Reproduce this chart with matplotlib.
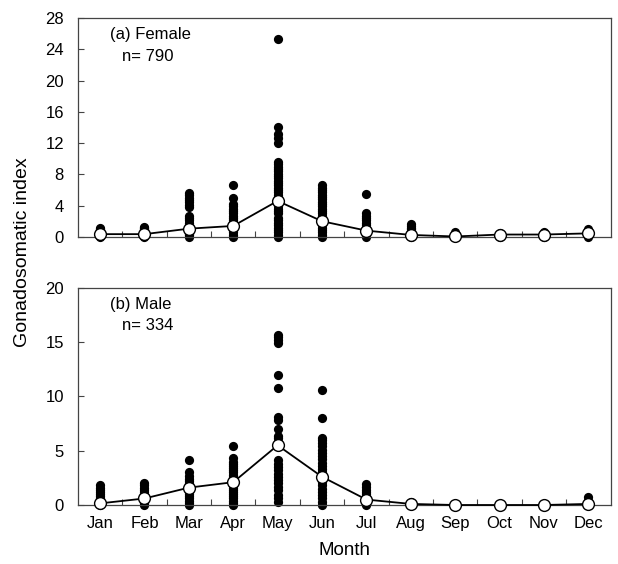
import matplotlib
matplotlib.use("Agg")
import matplotlib.pyplot as plt
import numpy as np

plt.rcParams['font.family'] = ['Liberation Sans', 'DejaVu Sans']

months = ["Jan", "Feb", "Mar", "Apr", "May", "Jun",
          "Jul", "Aug", "Sep", "Oct", "Nov", "Dec"]

# individual GSI values (female)
female_pts = [
    [0, 0.1, 0.2, 0.3, 0.4, 0.5, 0.6, 0.8, 1.0, 1.1],
    [0, 0.1, 0.2, 0.3, 0.4, 0.6, 0.8, 1.0, 1.2, 1.3],
    [0, 0.2, 0.4, 0.6, 0.8, 1.0, 1.2, 1.5, 1.8, 2.1, 2.4, 2.7,
     3.8, 4.1, 4.4, 4.7, 5.0, 5.3, 5.6],
    [0, 0.3, 0.6, 0.9, 1.2, 1.5, 1.8, 2.1, 2.4, 2.7, 3.0, 3.3,
     3.6, 3.9, 4.2, 5.0, 6.6],
    [0, 0.3, 0.6, 0.9, 1.2, 1.5, 1.8, 2.1, 2.4, 3.0, 3.3, 3.6,
     3.9, 4.2, 4.5, 4.8, 5.1, 5.4, 5.7, 6.0, 6.3, 6.6, 6.9, 7.2,
     7.5, 7.8, 8.1, 8.4, 8.7, 9.0, 9.3, 9.6, 12.0, 12.7, 13.2,
     14.0, 25.3],
    [0, 0.3, 0.6, 0.9, 1.2, 1.5, 1.8, 2.1, 2.4, 2.7, 3.0, 3.3,
     3.6, 3.9, 4.2, 4.5, 4.8, 5.1, 5.4, 5.7, 6.0, 6.3, 6.7],
    [0, 0.2, 0.4, 0.6, 0.8, 1.0, 1.2, 1.5, 1.8, 2.1, 2.4, 2.7,
     3.0, 5.5],
    [0, 0.2, 0.4, 0.6, 0.8, 1.0, 1.2, 1.4, 1.7],
    [0, 0.2, 0.4, 0.6],
    [0, 0.2, 0.4, 0.5],
    [0, 0.2, 0.4, 0.6],
    [0, 0.2, 0.4, 0.6, 0.8, 1.0],
]
female_mean = [0.35, 0.35, 1.05, 1.4, 4.6, 2.0, 0.8, 0.25, 0.05, 0.3, 0.3, 0.45]

# male
male_pts = [
    [0, 0.2, 0.4, 0.6, 0.8, 1.0, 1.2, 1.4, 1.6, 1.8],
    [0, 0.2, 0.4, 0.6, 0.8, 1.0, 1.2, 1.4, 1.6, 1.8, 2.0],
    [0, 0.2, 0.4, 0.6, 0.8, 1.0, 1.2, 1.4, 1.6, 1.8, 2.0, 2.2,
     2.4, 2.7, 3.0, 4.1],
    [0, 0.2, 0.4, 0.6, 0.8, 1.0, 1.2, 1.4, 1.6, 1.8, 2.0, 2.2,
     2.4, 2.6, 2.8, 3.0, 3.2, 3.4, 3.6, 3.8, 4.0, 4.3, 5.4],
    [0.3, 0.6, 0.9, 1.4, 1.7, 2.0, 2.3, 2.6, 2.9, 3.2, 3.5, 3.8,
     4.1, 5.4, 5.8, 6.2, 6.4, 7.0, 7.8, 8.1, 10.8, 12.0, 14.9,
     15.2, 15.5, 15.7],
    [0, 0.3, 0.6, 0.9, 1.2, 1.5, 1.8, 2.1, 2.4, 2.7, 3.0, 3.3,
     3.6, 3.9, 4.2, 4.5, 4.8, 5.1, 5.4, 5.7, 6.0, 6.2, 8.0, 10.6],
    [0, 0.2, 0.4, 0.6, 0.8, 1.0, 1.2, 1.4, 1.7, 1.9],
    [0, 0.1, 0.2, 0.3],
    [0],
    [0],
    [0],
    [0, 0.2, 0.4, 0.7],
]
male_mean = [0.15, 0.6, 1.6, 2.1, 5.5, 2.6, 0.5, 0.1, 0.0, 0.0, 0.0, 0.1]

x = np.arange(1, 13)

fig = plt.figure(figsize=(6.18, 5.64), dpi=100)
ax1 = fig.add_axes([0.126, 0.580, 0.862, 0.388])
ax2 = fig.add_axes([0.126, 0.1046, 0.862, 0.385])


def draw(ax, pts, mean, ymax, ystep, label, n):
    for i, vals in enumerate(pts):
        ax.scatter(np.full(len(vals), x[i]), vals, s=44, color="black",
                   zorder=2, clip_on=False, linewidths=0)
    ax.plot(x, mean, color="black", lw=1.3, zorder=3, marker="o",
            markersize=8.5, markerfacecolor="white", markeredgecolor="black",
            markeredgewidth=1.0, clip_on=False)
    ax.set_xlim(0.5, 12.5)
    ax.set_ylim(0, ymax)
    ax.set_yticks(np.arange(0, ymax + 0.1, ystep))
    ax.set_xticks(x)
    ax.set_xticks(np.arange(1.5, 12, 1), minor=True)
    ax.tick_params(direction="in", labelsize=12, length=4, width=0.8,
                   color="#444444")
    ax.tick_params(axis="y", pad=10)
    ax.tick_params(axis="x", which="minor", direction="in", length=4,
                   width=0.8, color="#444444")
    for s in ax.spines.values():
        s.set_color("#444444")
        s.set_linewidth(0.9)
    ax.text(0.06, 0.925, label, transform=ax.transAxes, fontsize=12,
            va="center", ha="left")
    ax.text(0.082, 0.825, n, transform=ax.transAxes, fontsize=12,
            va="center", ha="left")


draw(ax1, female_pts, female_mean, 28, 4, "(a) Female", "n= 790")
draw(ax2, male_pts, male_mean, 20, 5, "(b) Male", "n= 334")

ax1.set_xticklabels([])
ax2.set_xticklabels(months)
ax2.tick_params(axis="x", pad=8)
ax2.set_xlabel("Month", fontsize=13.5, labelpad=8)

fig.text(0.036, 0.553, "Gonadosomatic index", rotation=90, fontsize=14,
         va="center", ha="center")

fig.savefig("out.png", dpi=100)
